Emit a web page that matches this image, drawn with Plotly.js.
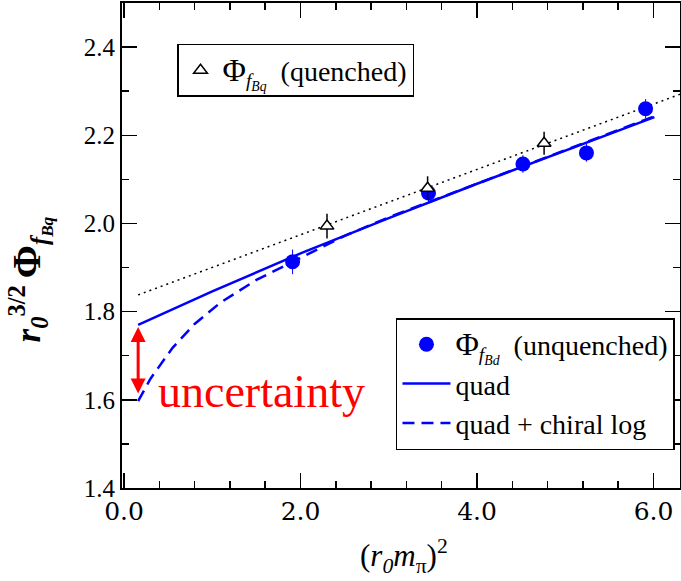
<!DOCTYPE html>
<html><head><meta charset="utf-8">
<script src="https://cdn.plot.ly/plotly-3.0.1.min.js"></script>
<style>html,body{margin:0;padding:0;background:#fff}</style>
</head><body><div id="chart" style="width:681px;height:581px"></div>
<script>
// unquenched Phi_fBd points
const unqX = [1.91, 3.45, 4.52, 5.24, 5.91];
const unqY = [1.913, 2.069, 2.135, 2.160, 2.260];
const unqErr = [0.028, 0.02, 0.02, 0.02, 0.022];
// quenched Phi_fBq points
const qX = [2.30, 3.44, 4.76];
const qY = [1.994, 2.080, 2.182];
const qErr = [0.028, 0.027, 0.026];
// quenched linear fit (dotted)
const qFitX = [0.16, 6.30];
const qFitY = [1.838, 2.293];
// quad fit (solid)
const quadX = [0.16, 1.0, 2.0, 3.0, 4.0, 5.0, 6.01];
const quadY = [1.770, 1.846, 1.932, 2.012, 2.090, 2.166, 2.241];
// quad + chiral log fit (dashed)
const chiX = [0.16, 0.3, 0.55, 0.8, 1.09, 1.5, 1.9, 2.5, 3.0, 4.0, 5.0, 6.01];
const chiY = [1.597, 1.648, 1.718, 1.772, 1.820, 1.872, 1.912, 1.972, 2.014, 2.090, 2.166, 2.243];
// ticks
const xTickVals = [0, 2, 4, 6];
const xTickText = ['0.0', '2.0', '4.0', '6.0'];
const yTickVals = [1.4, 1.6, 1.8, 2.0, 2.2, 2.4];
const yTickText = ['1.4', '1.6', '1.8', '2.0', '2.2', '2.4'];
// uncertainty arrow ends
const arrowX = 0.16, arrowTop = 1.765, arrowBottom = 1.611;

const SERIF = 'Liberation Serif';
const BLUE = '#0000ff';
const PHI = '<span style="font-size:32px">Φ</span>';

const traces = [
  {x: qFitX, y: qFitY, mode: 'lines', line: {color: '#000', width: 1.5, dash: '2px,4px'}, showlegend: false, hoverinfo: 'skip'},
  {x: quadX, y: quadY, mode: 'lines', name: 'quad', line: {color: BLUE, width: 2.5}, legend: 'legend2', legendrank: 2},
  {x: chiX, y: chiY, mode: 'lines', name: 'quad + chiral log', line: {color: BLUE, width: 2.5, dash: '12px,7px'}, legend: 'legend2', legendrank: 3},
  {x: unqX, y: unqY, mode: 'markers', name: PHI + '<sub><i>f</i><sub><i>Bd</i></sub></sub>  (unquenched)',
   marker: {color: BLUE, size: 15, symbol: 'circle'},
   error_y: {type: 'data', array: unqErr, color: BLUE, thickness: 1, width: 0}, legend: 'legend2', legendrank: 1},
  {x: qX, y: qY, mode: 'markers', name: PHI + '<sub><i>f</i><sub><i>Bq</i></sub></sub>  (quenched)',
   marker: {color: '#fff', size: 12, symbol: 'triangle-up', line: {color: '#000', width: 1.5}},
   error_y: {type: 'data', array: qErr, color: '#000', thickness: 1.5, width: 0}, legend: 'legend'}
];

function axisBase(fam) {
  return {
    showline: true, linewidth: 2, linecolor: '#000', mirror: 'allticks',
    ticks: 'inside', ticklen: 15, tickwidth: 1.5, tickcolor: '#000',
    showgrid: false, zeroline: false,
    tickfont: {family: fam, size: 25, color: '#000'}
  };
}

const layout = {
  width: 681, height: 581,
  margin: {l: 122, r: 1, t: 3, b: 93},
  paper_bgcolor: '#fff', plot_bgcolor: '#fff',
  showlegend: true,
  xaxis: Object.assign(axisBase('DejaVu Serif'), {
    range: [-0.023, 6.30], tickmode: 'array', tickvals: xTickVals, ticktext: xTickText,
    minor: {dtick: 0.4, tick0: 0, ticks: 'inside', ticklen: 7, tickwidth: 1.5, tickcolor: '#000'}
  }),
  yaxis: Object.assign(axisBase('serif'), {
    range: [1.4, 2.5], tickmode: 'array', tickvals: yTickVals, ticktext: yTickText,
    minor: {dtick: 0.1, tick0: 1.4, ticks: 'inside', ticklen: 7, tickwidth: 1.5, tickcolor: '#000'}
  }),
  legend: {x: 0.0986, y: 0.9155, xanchor: 'left', yanchor: 'top', itemwidth: 34,
    bordercolor: '#000', borderwidth: 1.5, bgcolor: '#fff',
    font: {family: SERIF, size: 28, color: '#000'}},
  legend2: {x: 0.491, y: 0.3505, xanchor: 'left', yanchor: 'top', itemwidth: 48,
    bordercolor: '#000', borderwidth: 1.5, bgcolor: '#fff', traceorder: 'normal',
    font: {family: SERIF, size: 28, color: '#000'}},
  annotations: [
    {x: arrowX, y: arrowTop, ax: arrowX, ay: arrowBottom, axref: 'x', ayref: 'y', xref: 'x', yref: 'y',
     text: '', showarrow: true, arrowside: 'end+start', arrowhead: 2, arrowsize: 1, arrowwidth: 3, arrowcolor: '#ff0000'},
    {x: 0.36, y: 1.62, xref: 'x', yref: 'y', xanchor: 'left', yanchor: 'middle', showarrow: false,
     text: 'uncertainty', font: {family: SERIF, size: 46, color: '#ff0000'}},
    {x: 0.505, y: -0.14, xref: 'paper', yref: 'paper', xanchor: 'center', yanchor: 'middle', showarrow: false,
     text: '(<i>r</i><sub><i>0</i></sub><i>m</i><sub>π</sub>)<sup>2</sup>', font: {family: SERIF, size: 31, color: '#000'}},
    {x: -0.165, y: 0.43, xref: 'paper', yref: 'paper', xanchor: 'center', yanchor: 'middle', showarrow: false, textangle: -90,
     text: '<b><i>r</i><sub><i>0</i></sub><sup>3/2</sup>\u2009<span style="font-size:40px">Φ</span><sub><i>f</i><sub><i>Bq</i></sub></sub></b>', font: {family: SERIF, size: 35, color: '#000'}}
  ]
};

Plotly.newPlot('chart', traces, layout, {displayModeBar: false, staticPlot: true});
</script></body></html>
